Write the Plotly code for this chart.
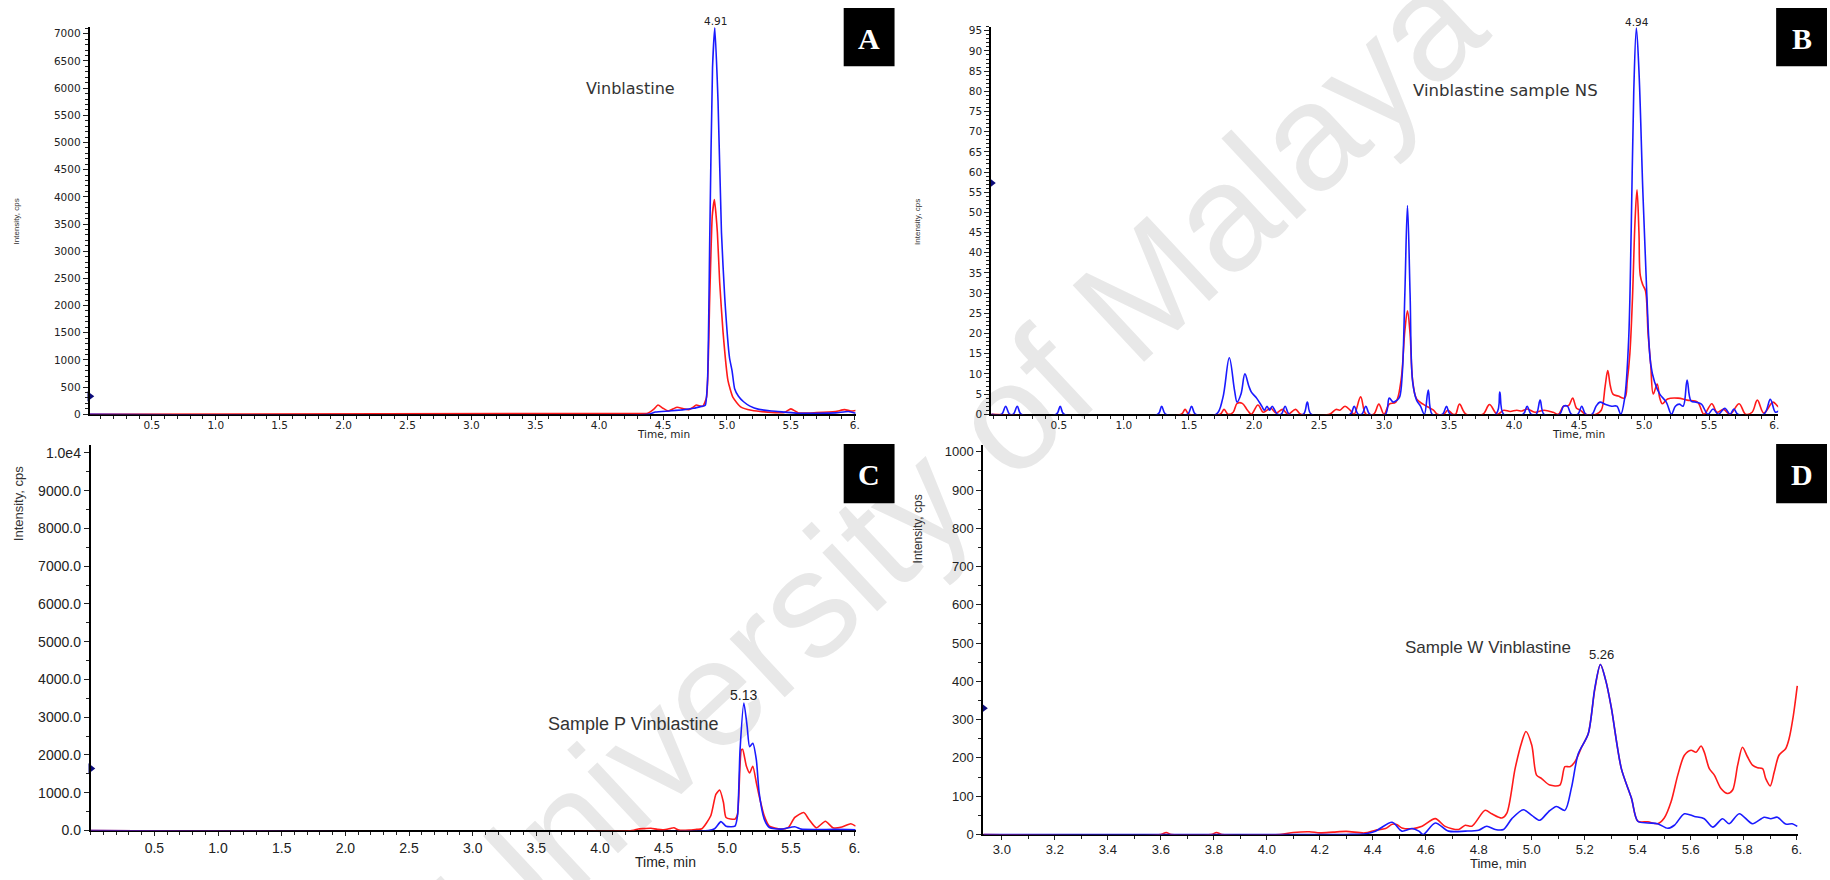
import plotly.graph_objects as go

W, H = 1830, 880

# ------------------------------------------------------------------ data
# Panel A : Vinblastine standard
a_red_t = [0.014, 4.19, 4.38, 4.43, 4.46, 4.50, 4.54, 4.58, 4.61, 4.66, 4.70, 4.73, 4.76, 4.81, 4.84,
           4.865, 4.885, 4.902, 4.925, 4.943, 4.969, 5.008, 5.047, 5.11, 5.19, 5.32, 5.45, 5.50, 5.56,
           5.70, 5.85, 5.92, 5.97, 6.007]
a_red_v = [0, 15, 20, 100, 170, 110, 60, 100, 130, 100, 85, 120, 170, 145, 310,
           2130, 3650, 3950, 3345, 2430, 1520, 618, 310, 130, 73, 40, 35, 100, 25,
           30, 50, 85, 60, 70]
a_blue_t = [0.014, 4.38, 4.44, 4.55, 4.65, 4.74, 4.80, 4.83, 4.848, 4.866, 4.887, 4.905, 4.93, 4.957,
            4.983, 5.02, 5.04, 5.06, 5.09, 5.13, 5.18, 5.25, 5.35, 5.45, 5.55, 5.70, 5.85, 5.95, 6.007]
a_blue_v = [0, 0, 40, 60, 80, 110, 145, 165, 618, 3345, 6375, 7110, 5770, 3345,
            2130, 1040, 800, 470, 330, 230, 150, 90, 60, 40, 20, 20, 25, 50, 20]

# Panel B : Vinblastine sample NS
b_red_t = [-0.02, 1.44, 1.47, 1.50, 1.74, 1.77, 1.80, 1.84, 1.87, 1.91, 1.95, 1.98, 2.03, 2.07, 2.10,
           2.13, 2.17, 2.22, 2.26, 2.32, 2.36, 2.58, 2.63, 2.66, 2.70, 2.74, 2.77, 2.82, 2.86, 2.92,
           2.96, 3.00, 3.04, 3.09, 3.13, 3.16, 3.18, 3.20, 3.22, 3.25, 3.30, 3.38, 3.41, 3.46, 3.49,
           3.53, 3.55, 3.58, 3.63, 3.76, 3.81, 3.87, 3.92, 3.97, 4.02, 4.06, 4.10, 4.16, 4.23, 4.30,
           4.34, 4.38, 4.42, 4.45, 4.48, 4.51, 4.55, 4.63, 4.67, 4.70, 4.72, 4.74, 4.76, 4.80, 4.85,
           4.87, 4.89, 4.91, 4.93, 4.945, 4.96, 4.97, 4.99, 5.01, 5.03, 5.05, 5.07, 5.10, 5.12, 5.14,
           5.18, 5.26, 5.33, 5.41, 5.46, 5.52, 5.56, 5.61, 5.66, 5.73, 5.78, 5.83, 5.87, 5.92, 5.99,
           6.02, 6.05]
b_red_v = [0, 0, 1.2, 0, 0, 1.2, 0, 0.5, 2.7, 2.7, 1, 0, 2.3, 0.5, 1,
           1.5, 0.3, 1.2, 0, 1.2, 0, 0, 1.2, 1, 2, 1, 0, 4.3, 0, 0,
           2.5, 0, 2.5, 3, 8.3, 20.7, 25.6, 20, 8.3, 3.8, 2.5, 1, 0, 0, 1,
           0, 0, 2.5, 0, 0, 2.4, 0, 1, 0.7, 1, 0.8, 1.3, 0.5, 1, 0.5,
           0, 2, 2.2, 4, 1.5, 1, 0, 0, 1, 7, 10.8, 7, 5, 4.5, 4,
           8.3, 15, 28.7, 48, 55.6, 45, 34.4, 32, 30.6, 20, 12.4, 5, 7.5, 4, 2.6,
           3.8, 4, 3.5, 3, 0, 2.6, 0.5, 1.2, 0, 2.6, 0, 0.5, 3.5, 0.3, 3,
           2.2, 1.3]
b_blue_t = [-0.02, 0.06, 0.09, 0.12, 0.15, 0.18, 0.21, 0.48, 0.51, 0.54, 1.26, 1.29, 1.32, 1.49, 1.52,
            1.55, 1.71, 1.76, 1.81, 1.85, 1.87, 1.90, 1.93, 1.96, 1.98, 2.02, 2.06, 2.08, 2.10, 2.12,
            2.14, 2.16, 2.18, 2.21, 2.24, 2.27, 2.38, 2.41, 2.44, 2.74, 2.77, 2.80, 2.83, 2.86, 2.89,
            3.01, 3.04, 3.07, 3.10, 3.12, 3.14, 3.16, 3.18, 3.20, 3.22, 3.25, 3.28, 3.31, 3.34, 3.37,
            3.45, 3.48, 3.51, 3.86, 3.89, 3.92, 4.07, 4.10, 4.13, 4.17, 4.20, 4.23, 4.35, 4.38, 4.41,
            4.44, 4.49, 4.52, 4.55, 4.60, 4.63, 4.66, 4.70, 4.75, 4.79, 4.82, 4.85, 4.88, 4.90, 4.92,
            4.94, 4.96, 4.99, 5.02, 5.05, 5.08, 5.12, 5.17, 5.21, 5.24, 5.27, 5.30, 5.33, 5.36, 5.40,
            5.44, 5.49, 5.53, 5.57, 5.62, 5.66, 5.69, 5.72, 5.92, 5.97, 6.01, 6.05]
b_blue_v = [0, 0, 2, 0, 0, 2, 0, 0, 2, 0, 0, 2, 0, 0, 2,
            0, 0, 4, 14, 6, 3, 5, 10, 7, 5.5, 4, 2, 1, 2, 1,
            2, 1, 0, 0, 2, 0, 0, 3, 0, 0, 2, 0, 0, 2, 0,
            0, 4, 3, 3.5, 4.3, 10, 30, 51.7, 30, 8, 3.5, 2, 0, 6, 0,
            0, 2, 0, 0, 5.5, 0, 0, 2, 0, 0, 3.5, 0, 0, 2, 2,
            0, 0, 2, 0, 0, 2, 3, 2.5, 2, 2, 0, 4, 18, 45, 80,
            95.7, 85, 55, 30, 12.5, 8, 5, 3, 0, 2, 2.5, 2, 8.5, 3.3, 3,
            2.5, 0, 1.3, 0, 1.5, 0, 1.3, 0, 0, 3.7, 0.5, 1.3]

# Panel C : Sample P Vinblastine
c_red_t = [0.0, 4.25, 4.30, 4.35, 4.40, 4.45, 4.50, 4.55, 4.58, 4.62, 4.70, 4.76, 4.80, 4.87, 4.91,
           4.94, 4.97, 4.99, 5.06, 5.08, 5.11, 5.12, 5.15, 5.175, 5.20, 5.228, 5.25, 5.29, 5.33, 5.42,
           5.48, 5.53, 5.60, 5.64, 5.70, 5.77, 5.83, 5.90, 5.97, 6.008]
c_red_v = [0, 0, 40, 50, 60, 30, 20, 50, 70, 10, 10, 30, 45, 390, 955,
           1070, 735, 345, 300, 430, 2135, 2150, 1700, 1525, 1700, 1265, 915, 390, 115, 35,
           80, 345, 475, 300, 70, 245, 70, 90, 180, 115]
c_blue_t = [0.0, 4.85, 4.90, 4.95, 4.99, 5.06, 5.08, 5.10, 5.13, 5.156, 5.175, 5.20, 5.228, 5.25, 5.29,
            5.33, 5.42, 5.53, 5.58, 5.70, 5.85, 6.008]
c_blue_v = [0, 0, 45, 235, 115, 115, 390, 2135, 3374, 2745, 2220, 2310, 1870, 1000, 300,
            80, 35, 100, 35, 25, 30, 20]

# Panel D : Sample W Vinblastine
d_red_t = [2.93, 3.60, 3.62, 3.64, 3.79, 3.81, 3.83, 4.05, 4.10, 4.16, 4.20, 4.25, 4.30, 4.37, 4.41,
           4.448, 4.473, 4.49, 4.51, 4.548, 4.586, 4.636, 4.673, 4.724, 4.749, 4.774, 4.824, 4.849,
           4.887, 4.906, 4.937, 4.962, 4.978, 5.0, 5.018, 5.037, 5.068, 5.106, 5.125, 5.144, 5.163,
           5.188, 5.213, 5.238, 5.259, 5.28, 5.3, 5.338, 5.376, 5.4, 5.438, 5.475, 5.5, 5.526, 5.551,
           5.576, 5.601, 5.62, 5.639, 5.651, 5.67, 5.689, 5.714, 5.739, 5.758, 5.777, 5.795, 5.814,
           5.833, 5.852, 5.871, 5.883, 5.9, 5.915, 5.933, 5.958, 5.971, 5.987, 6.002]
d_red_v = [0, 0, 5, 0, 0, 5, 0, 0, 5, 7, 4, 6, 8, 4, 11,
           15.5, 26.7, 26, 17, 15, 21.5, 41.3, 21, 13, 24, 21.5, 63, 54,
           43, 56, 172, 241, 269, 233, 155, 146, 129, 129, 177, 177, 190,
           228, 263, 380, 444, 400, 332, 172, 95, 34.5, 33, 28, 43, 86, 155,
           207, 220, 215, 231, 215, 172, 155, 120, 107, 116, 181, 228, 203,
           181, 174, 172, 146, 127, 163, 207, 224, 250, 310, 388]
d_blue_t = [2.93, 4.30, 4.373, 4.41, 4.473, 4.51, 4.548, 4.574, 4.59, 4.636, 4.686, 4.749, 4.799, 4.83,
            4.862, 4.893, 4.925, 4.968, 5.0, 5.03, 5.062, 5.093, 5.125, 5.15, 5.175, 5.213, 5.238,
            5.259, 5.28, 5.3, 5.338, 5.376, 5.4, 5.438, 5.475, 5.513, 5.538, 5.576, 5.614, 5.651,
            5.683, 5.72, 5.745, 5.783, 5.833, 5.877, 5.902, 5.927, 5.958, 5.983, 6.002]
d_blue_v = [0, 0, 2, 8.6, 31.8, 8.6, 15.5, 8.6, 0, 30, 8.6, 8.6, 11, 21.5,
            12.9, 12.9, 41.3, 64.6, 50, 37, 58.6, 73, 62.9, 123, 210, 263, 383,
            444, 400, 332, 172, 95, 34.5, 30, 28, 16, 24, 54, 47, 41,
            19, 41, 28, 54, 28, 45, 41, 45, 27, 28, 21]

# peak labels, compound labels, threshold markers
peak_labels = {"A": (4.91, "4.91"), "B": (4.94, "4.94"), "C": (5.13, "5.13"), "D": (5.26, "5.26")}
compound_labels = {"A": "Vinblastine", "B": "Vinblastine sample NS",
                   "C": "Sample P Vinblastine", "D": "Sample W Vinblastine"}
threshold_levels = {"A": 330, "B": 57.3, "C": 1640, "D": 330}

# axis ticks
ab_x_ticks = [0.5, 1.0, 1.5, 2.0, 2.5, 3.0, 3.5, 4.0, 4.5, 5.0, 5.5, 6.0]
ab_x_text = ["0.5", "1.0", "1.5", "2.0", "2.5", "3.0", "3.5", "4.0", "4.5", "5.0", "5.5", "6."]
d_x_ticks = [3.0, 3.2, 3.4, 3.6, 3.8, 4.0, 4.2, 4.4, 4.6, 4.8, 5.0, 5.2, 5.4, 5.6, 5.8, 6.0]
d_x_text = ["3.0", "3.2", "3.4", "3.6", "3.8", "4.0", "4.2", "4.4", "4.6", "4.8", "5.0", "5.2",
            "5.4", "5.6", "5.8", "6."]
a_y_ticks = list(range(0, 7001, 500))
b_y_ticks = list(range(0, 96, 5))
c_y_ticks = list(range(0, 10001, 1000))
c_y_text = ["0.0", "1000.0", "2000.0", "3000.0", "4000.0", "5000.0", "6000.0", "7000.0",
            "8000.0", "9000.0", "1.0e4"]
d_y_ticks = list(range(0, 1001, 100))

# ------------------------------------------------------------------ layout helpers
def fx(p):
    return p / W


def fy(p):
    return 1 - p / H


RED = "#ff1a1a"
BLUE = "#1a1aff"
TXT = "#222222"
FA = "DejaVu Sans"
FC = "Liberation Sans"

panels = [
    dict(key="A", ax="", px=(90, 858), py=(25, 417), xr=[0.014, 6.007], yr=[0, 7130],
         red=(a_red_t, a_red_v), blue=(a_blue_t, a_blue_v), smooth=0.5,
         xt=(ab_x_ticks, ab_x_text), yt=(a_y_ticks, [str(v) for v in a_y_ticks]), ymin=100,
         font=FA, tfs=10.5, xstand=-4, fs_lbl=16, lbl_xy=(632, 87), pk_xy=(717, 19), pk_fs=10.5,
         time_xy=(665, 437), time_fs=10.5, int_xy=(17, 222), int_fs=8,
         box=(846, 6, 897, 65)),
    dict(key="B", ax="2", px=(994, 1783), py=(25, 417), xr=[-0.02, 6.03], yr=[0, 96],
         red=(b_red_t, b_red_v), blue=(b_blue_t, b_blue_v), smooth=1.0,
         xt=(ab_x_ticks, ab_x_text), yt=(b_y_ticks, [str(v) for v in b_y_ticks]), ymin=1,
         font=FA, tfs=10.5, xstand=-4, fs_lbl=16.5, lbl_xy=(1510, 90), pk_xy=(1641, 20), pk_fs=10.5,
         time_xy=(1583, 437), time_fs=10.5, int_xy=(920, 222), int_fs=8,
         box=(1781, 6, 1832, 65)),
    dict(key="C", ax="3", px=(91, 858), py=(448, 838), xr=[0.0, 6.008], yr=[0, 10210],
         red=(c_red_t, c_red_v), blue=(c_blue_t, c_blue_v), smooth=0.6,
         xt=(ab_x_ticks, ab_x_text), yt=(c_y_ticks, c_y_text), ymin=500,
         font=FC, tfs=14, xstand=0, fs_lbl=18, lbl_xy=(635, 730), pk_xy=(746, 701), pk_fs=14,
         time_xy=(667, 870), time_fs=14, int_xy=(18, 507), int_fs=13,
         box=(846, 447, 897, 507)),
    dict(key="D", ax="4", px=(986, 1803), py=(448, 842), xr=[2.93, 6.005], yr=[0, 1018],
         red=(d_red_t, d_red_v), blue=(d_blue_t, d_blue_v), smooth=0.8,
         xt=(d_x_ticks, d_x_text), yt=(d_y_ticks, [str(v) for v in d_y_ticks]), ymin=50,
         font=FC, tfs=13, xstand=-2, fs_lbl=17, lbl_xy=(1492, 653), pk_xy=(1606, 660), pk_fs=13,
         time_xy=(1503, 871), time_fs=13, int_xy=(920, 533), int_fs=12,
         box=(1781, 447, 1832, 507)),
]

fig = go.Figure()
annotations = []
shapes = []

# watermark, drawn beneath the traces (centre and direction in page pixels)
wm_cx, wm_cy, wm_dx, wm_dy, wm_half = 950, 457, 0.728, -0.686, 600
shapes.append(dict(type="line", xref="paper", yref="paper",
                   x0=fx(wm_cx - wm_half * wm_dx), y0=fy(wm_cy - wm_half * wm_dy),
                   x1=fx(wm_cx + wm_half * wm_dx), y1=fy(wm_cy + wm_half * wm_dy),
                   line=dict(width=0, color="rgba(0,0,0,0)"), layer="below",
                   label=dict(text="University of Malaya", textposition="middle",
                              yanchor="middle",
                              font=dict(family=FC, size=152, color="#e8e8e8"))))

for p in panels:
    ax = p["ax"]
    xa = "x" + ax
    ya = "y" + ax
    for (t, v), col in ((p["red"], RED), (p["blue"], BLUE)):
        fig.add_trace(go.Scatter(x=t, y=v, mode="lines", xaxis=xa, yaxis=ya,
                                 line=dict(color=col, width=1.6, shape="spline", smoothing=p["smooth"]),
                                 showlegend=False, hoverinfo="skip"))
    # threshold marker on the y axis
    fig.add_trace(go.Scatter(x=[p["xr"][0]], y=[threshold_levels[p["key"]]], mode="markers",
                             xaxis=xa, yaxis=ya, cliponaxis=False,
                             marker=dict(symbol="triangle-right", size=9, color="#0b0b7a"),
                             showlegend=False, hoverinfo="skip"))

    tf = dict(family=p["font"], size=p["tfs"], color=TXT)
    fig.layout["xaxis" + ax] = dict(
        domain=[fx(p["px"][0]), fx(p["px"][1])], anchor=ya, range=p["xr"],
        showline=True, linecolor="black", linewidth=1.5, mirror=False,
        showgrid=False, zeroline=False, layer="below traces",
        tickmode="array", tickvals=p["xt"][0], ticktext=p["xt"][1],
        ticks="outside", ticklen=4, tickwidth=1.2, tickcolor=TXT, tickfont=tf,
        ticklabelstandoff=p["xstand"],
        minor=dict(ticks="outside", tick0=0, dtick=0.1, ticklen=3, tickwidth=1, tickcolor=TXT),
        fixedrange=True)
    fig.layout["yaxis" + ax] = dict(
        domain=[fy(p["py"][1]), fy(p["py"][0])], anchor=xa, range=p["yr"],
        showline=True, linecolor="black", linewidth=2, showgrid=False, zeroline=False,
        tickmode="array", tickvals=p["yt"][0], ticktext=p["yt"][1],
        ticks="outside", ticklen=5, tickwidth=1.2, tickcolor=TXT, tickfont=tf,
        minor=dict(ticks="outside", tick0=0, dtick=p["ymin"], ticklen=3, tickwidth=1, tickcolor=TXT),
        fixedrange=True)

    # texts
    annotations.append(dict(xref="paper", yref="paper", x=fx(p["lbl_xy"][0]), y=fy(p["lbl_xy"][1]),
                            text=compound_labels[p["key"]], showarrow=False,
                            xanchor="center", yanchor="middle",
                            font=dict(family=p["font"], size=p["fs_lbl"], color="#333333")))
    annotations.append(dict(xref="paper", yref="paper", x=fx(p["pk_xy"][0]), y=fy(p["pk_xy"][1]),
                            text=peak_labels[p["key"]][1], showarrow=False,
                            xanchor="center", yanchor="middle",
                            font=dict(family=p["font"], size=p["pk_fs"], color=TXT)))
    annotations.append(dict(xref="paper", yref="paper", x=fx(p["time_xy"][0]), y=fy(p["time_xy"][1]),
                            text="Time, min", showarrow=False, xanchor="center", yanchor="middle",
                            font=dict(family=p["font"], size=p["time_fs"], color=TXT)))
    annotations.append(dict(xref="paper", yref="paper", x=fx(p["int_xy"][0]), y=fy(p["int_xy"][1]),
                            text="Intensity, cps", showarrow=False, textangle=-90,
                            xanchor="center", yanchor="middle",
                            font=dict(family=FC, size=p["int_fs"], color="#333333")))
    # panel letter box
    x0, y0, x1, y1 = p["box"]
    shapes.append(dict(type="rect", xref="paper", yref="paper",
                       x0=fx(x0), x1=fx(x1), y0=fy(y1), y1=fy(y0),
                       fillcolor="black", line=dict(width=0), layer="above"))
    annotations.append(dict(xref="paper", yref="paper", x=fx((x0 + x1) / 2), y=fy((y0 + y1) / 2 + 1),
                            text="<b>%s</b>" % p["key"], showarrow=False,
                            xanchor="center", yanchor="middle",
                            font=dict(family="Liberation Serif", size=30, color="white")))

fig.update_layout(width=W, height=H, margin=dict(l=0, r=0, t=0, b=0),
                  paper_bgcolor="white", plot_bgcolor="rgba(0,0,0,0)",
                  annotations=annotations, shapes=shapes, showlegend=False)

fig.write_html("out.html", config={"displayModeBar": False},
               post_script="document.body.style.margin='0px';"
                           "document.body.style.overflow='hidden';")
